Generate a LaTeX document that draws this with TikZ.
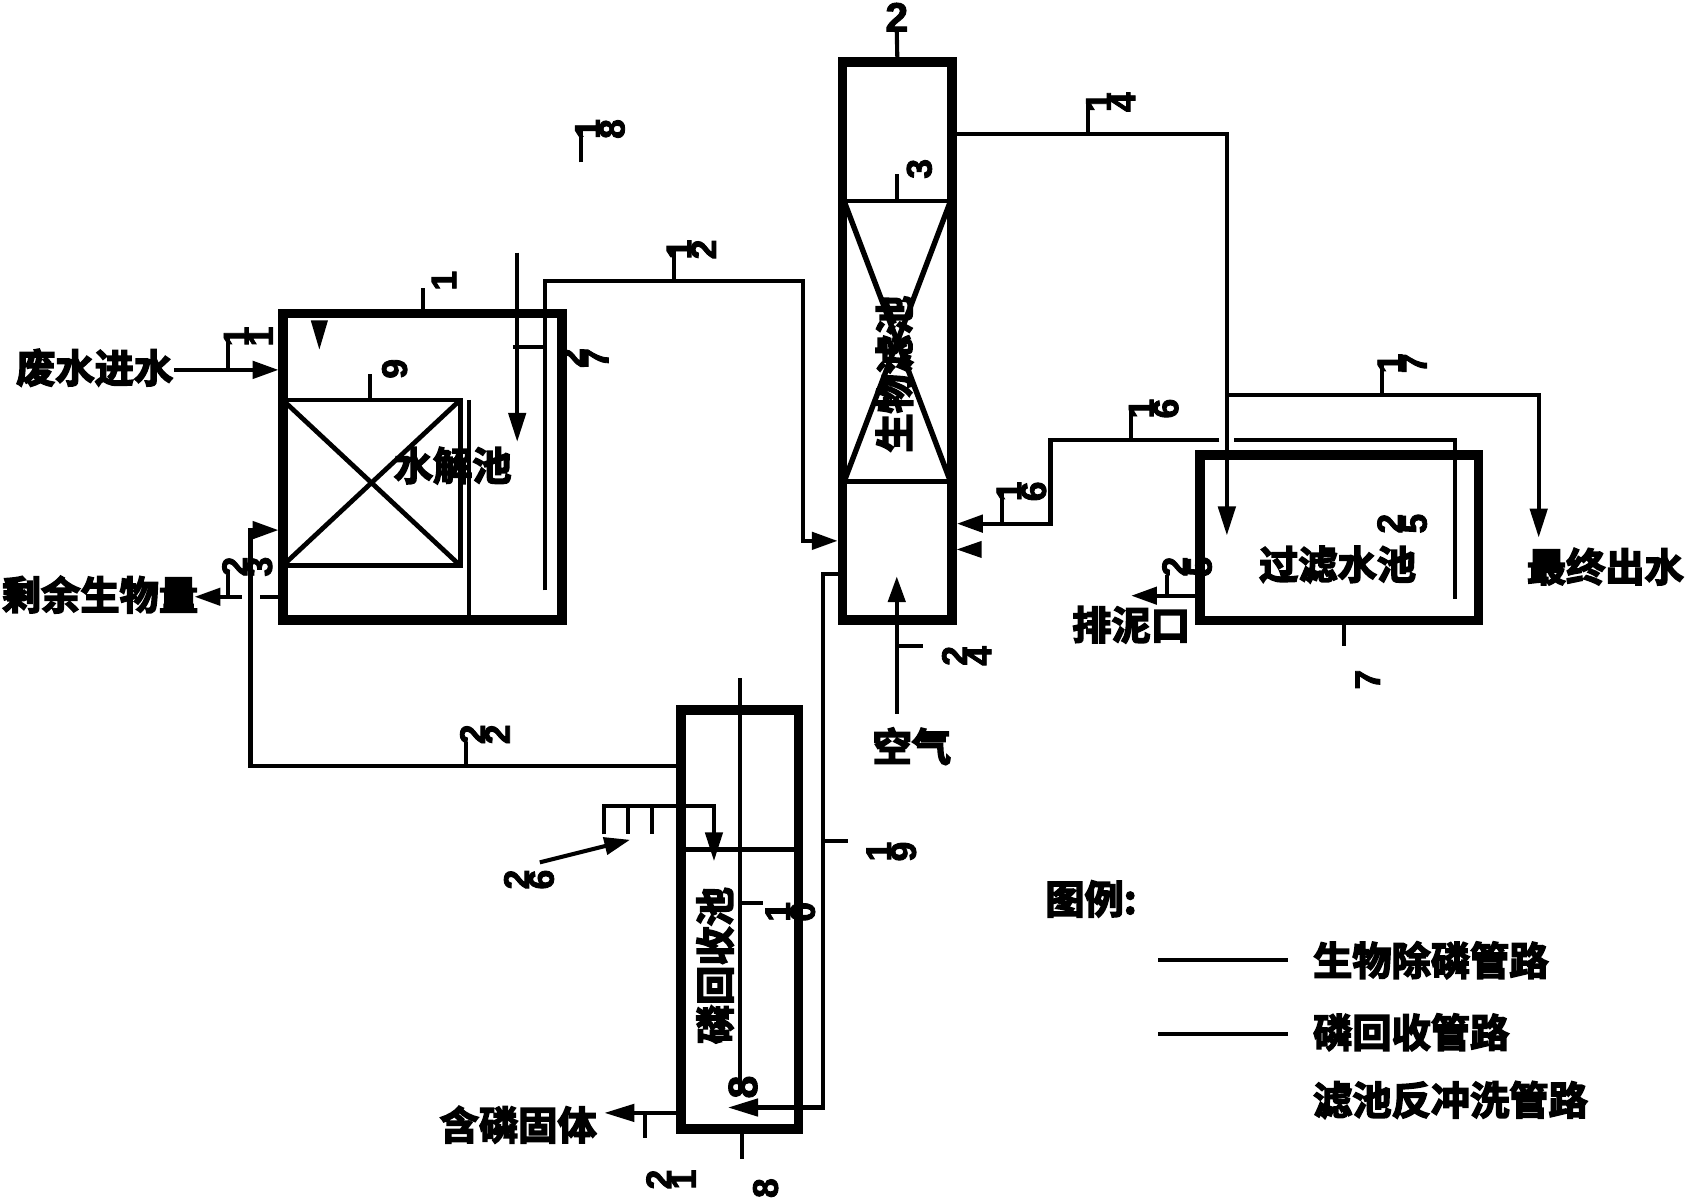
\documentclass[tikz,border=0pt]{standalone}
\usepackage{fontspec}
\usepackage{graphicx}
\usetikzlibrary{arrows.meta}
\setmainfont{Liberation Sans}
\newfontfamily\cjk[FakeBold=4]{Noto Sans CJK SC Bold}
\newfontfamily\numf[FakeBold=2.5]{Liberation Sans Bold}
\newcommand{\rd}[1]{\rotatebox{90}{#1}}
\tikzset{
  tank/.style={draw=black,line width=9pt,inner sep=0pt,fill=none},
  media/.style={draw=black,line width=4.4pt,inner sep=0pt,outer sep=0pt},
  pipe/.style={draw=black,line width=3.8pt,line join=miter},
  sep/.style={draw=black,line width=4.4pt},
  arrowpipe/.style={pipe,-{Triangle[length=24pt,width=16pt]}},
  tickline/.style={draw=black,line width=3.8pt},
  cn/.style={inner sep=0pt,font=\cjk\fontsize{36.5}{36.5}\selectfont},
  num/.style={inner sep=0pt,font=\numf\fontsize{33}{33}\selectfont},
}
\begin{document}
\begin{tikzpicture}[x=1pt,y=-1pt]
\useasboundingbox (0,0) rectangle (1568,1115);
\fill[white] (0,0) rectangle (1568,1115);

% tanks
\node[tank,minimum width=259pt,minimum height=285pt] (tankA) at (393,434) {};
\node[tank,minimum width=102pt,minimum height=519pt] (tankB) at (834.5,317) {};
\node[tank,minimum width=259pt,minimum height=154pt] (tankC) at (1245.5,500) {};
\node[tank,minimum width=109pt,minimum height=390pt] (tankD) at (688,855) {};
\node[media,minimum width=165pt,minimum height=154pt] (packA) at (345.5,449) {};
\draw[sep] (packA.north west) -- (packA.south east);
\draw[sep] (packA.south west) -- (packA.north east);

% tank B internals
\coordinate (bTopL) at (785,187); \coordinate (bTopR) at (884,187);
\coordinate (bBotL) at (785,448); \coordinate (bBotR) at (884,448);
\draw[sep] (bTopL) -- (bTopR);
\draw[sep] (bBotL) -- (bBotR);
\draw[sep,line width=5pt] (bTopL) -- (bBotR);
\draw[sep,line width=5pt] (bTopR) -- (bBotL);

% tank labels
\node[cn] (nameA) at (421,433) {水解池};
\node[cn,rotate=90] (nameB) at (832,348) {生物滤池};
\node[cn] (nameC) at (1244,525) {过滤水池};
\node[cn,rotate=90] (nameD) at (665,898) {磷回收池};

% free-standing texts
\node[cn] (inlet) at (88,342) {废水进水};
\node[cn] (sludgeA) at (93,553) {剩余生物量};
\node[cn] (outlet) at (1493,527) {最终出水};
\node[cn] (drain) at (1052,581) {排泥口};
\node[cn] (air) at (848,694) {空气};
\node[cn] (solid) at (482,1046) {含磷固体};
\node[cn,anchor=west] (legend) at (972,836) {图例:};
\node[cn,anchor=west] (legA) at (1221,893) {生物除磷管路};
\node[cn,anchor=west] (legB) at (1221,960) {磷回收管路};
\node[cn,anchor=west] (legC) at (1221,1023) {滤池反冲洗管路};

% legend lines
\coordinate (legAs) at (1077,893); \coordinate (legBs) at (1077,962);
\draw[pipe] (legAs) -- (1198,893);
\draw[pipe] (legBs) -- (1198,962);

% inlet
\draw[arrowpipe] (162,344) -- (tankA.west |- 0,344);

% excess biomass
\coordinate (wasteA) at (tankA.west |- 0,555);
\coordinate (wasteB) at (242,555);
\coordinate (wasteC) at (225,555);
\draw[pipe] (wasteA) -- (wasteB);
\draw[arrowpipe] (wasteC) -- (181,555);

% recycle 22
\coordinate (r22) at (tankD.west |- 0,712);
\coordinate (r22b) at (233,712);
\coordinate (r22c) at (233,493);
\draw[arrowpipe] (r22) -- (r22b) -- (r22c) -- (tankA.west |- r22c);

% pipe 12
\coordinate (p12s) at (507,549);
\coordinate (p12a) at (507,261);
\coordinate (p12b) at (747,261);
\coordinate (p12c) at (747,503);
\draw[arrowpipe] (p12s) -- (p12a) -- (p12b) -- (p12c) -- (tankB.west |- p12c);

% tank A internal
\coordinate (wallA) at (436,372);
\draw[pipe] (wallA) -- (wallA |- tankA.south);
\coordinate (feedA) at (481,235);
\draw[pipe,-{Triangle[length=27pt,width=16pt]}] (feedA) -- (481,411);
\fill (289,298) -- (305,298) -- (297,325) -- cycle;

% pipe 14
\coordinate (p14s) at (tankB.east |- 0,125);
\coordinate (p14a) at (1141,125);
\coordinate (p14b) at (1141,498);
\draw[pipe,-{Triangle[length=27pt,width=16pt]}] (p14s) -- (p14a) -- (p14b);
\coordinate (p17a) at (1141,367);
\coordinate (p17b) at (1431,367);
\coordinate (p17c) at (1431,500);
\draw[pipe,-{Triangle[length=27pt,width=16pt]}] (p17a) -- (p17b) -- (p17c);

% backwash 16
\coordinate (p16a) at (977,487);
\coordinate (p16b) at (977,409);
\coordinate (p16c) at (1134,409);
\coordinate (p16d) at (1148,409);
\coordinate (p16e) at (1353,409);
\coordinate (p16f) at (1353,557);
\draw[pipe] (p16d) -- (p16e) -- (p16f);
\draw[arrowpipe] (p16c) -- (p16b) -- (p16a) -- (tankB.east |- p16a);
\fill (890,511) -- (913,503) -- (913,519) -- cycle;

% air
\coordinate (airs) at (834,664);
\draw[arrowpipe] (airs) -- (834,536);

% drain from filter
\coordinate (drainS) at (tankC.west |- 0,554);
\draw[arrowpipe] (drainS) -- (1052,554);

% tank D internals
\coordinate (dLineL) at (tankD.west |- 0,790);
\coordinate (dLineR) at (tankD.east |- 0,790);
\draw[pipe] (dLineL) -- (dLineR);
\coordinate (dShaftT) at (688,631);
\coordinate (dShaftB) at (688,1017);
\draw[pipe] (dShaftT) -- (dShaftB);

% dosing comb
\coordinate (combL) at (562,776);
\coordinate (combLT) at (562,750);
\coordinate (combRT) at (664,750);
\coordinate (combTip) at (664,801);
\draw[pipe,-{Triangle[length=27pt,width=16pt]}] (combL) -- (combLT) -- (combRT) -- (combTip);
\draw[pipe] (584,750) -- (584,776);
\draw[pipe] (606,750) -- (606,776);
\coordinate (dos) at (502,802);
\coordinate (dosT) at (586,781);
\draw[arrowpipe] (dos) -- (dosT);

% pipe 19
\coordinate (p19a) at (765,534);
\coordinate (p19b) at (765,1030);
\draw[pipe,-{Triangle[length=28pt,width=16pt]}] (tankB.west |- p19a) -- (p19a) -- (p19b) -- (677,1030);

% solid discharge
\coordinate (solidS) at (tankD.west |- 0,1035);
\draw[pipe,-{Triangle[length=28pt,width=16pt]}] (solidS) -- (562,1035);

% number labels and their ticks
\node[num] (n1) at (413,261) {\rd{1}};
\draw[tickline] (tankA.north -| 393,0) -- (393,268);
\node[num] (n11) at (231,313) {\rd{1}\rd{1}};
\draw[tickline] (212,344) -- (212,313);
\node[num] (n2) at (834,16) {\fontsize{38}{38}\selectfont 2};
\draw[tickline] (n2.south) -- (tankB.north);
\node[num] (n3) at (855,157) {\rd{3}};
\draw[tickline] (834,187) -- (834,162);
\node[num] (n9) at (367,343) {\rd{9}};
\draw[tickline] (packA.north -| 344,0) -- (344,348);
\node[num] (n12) at (643,232) {\rd{1}\rd{2}};
\draw[tickline] (627,261) -- (627,232);
\node[num] (n14) at (1033,95) {\rd{1}\rd{4}};
\draw[tickline] (1012,125) -- (1012,97);
\node[num] (n18) at (558,120) {\rd{1}\rd{8}};
\draw[tickline] (540,151) -- (540,120);
\node[num] (n7a) at (543,333) {\rd{2}\rd{7}};
\draw[tickline] (477,323) -- (507,323);
\node[num] (n23) at (230,527) {\rd{2}\rd{3}};
\draw[tickline] (212,555) -- (212,535);
\node[num] (n22) at (451,683) {\rd{2}\rd{2}};
\draw[tickline] (433,712) -- (433,690);
\node[num] (n16a) at (950,457) {\rd{1}\rd{6}};
\draw[tickline] (932,487) -- (932,457);
\node[num] (n16b) at (1073,380) {\rd{1}\rd{6}};
\draw[tickline] (1052,409) -- (1052,381);
\node[num] (n17) at (1304,338) {\rd{1}\rd{7}};
\draw[tickline] (1285,367) -- (1285,338);
\node[num] (n25a) at (1304,487) {\rd{2}\rd{5}};
\node[num] (n25b) at (1104,527) {\rd{2}\rd{5}};
\draw[tickline] (1085,554) -- (1085,535);
\node[num] (n7b) at (1272,632) {\rd{7}};
\draw[tickline] (tankC.south -| 1250,0) -- (1250,601);
\node[num] (n24) at (899,610) {\rd{2}\rd{4}};
\draw[tickline] (834,601) -- (858,601);
\node[num] (n26) at (492,818) {\rd{2}\rd{6}};
\node[num] (n19) at (829,792) {\rd{1}\rd{9}};
\draw[tickline] (765,782) -- (789,782);
\node[num] (n10) at (735,848) {\rd{1}\rd{0}};
\draw[tickline] (688,840) -- (710,840);
\node[num] (n8a) at (691,1011) {\fontsize{38}{38}\selectfont\rd{8}};
\node[num] (n8b) at (712,1105) {\rd{8}};
\draw[tickline] (tankD.south -| 690,0) -- (690,1078);
\node[num] (n21) at (624,1097) {\rd{2}\rd{1}};
\draw[tickline] (600,1035) -- (600,1058);
\end{tikzpicture}
\end{document}
